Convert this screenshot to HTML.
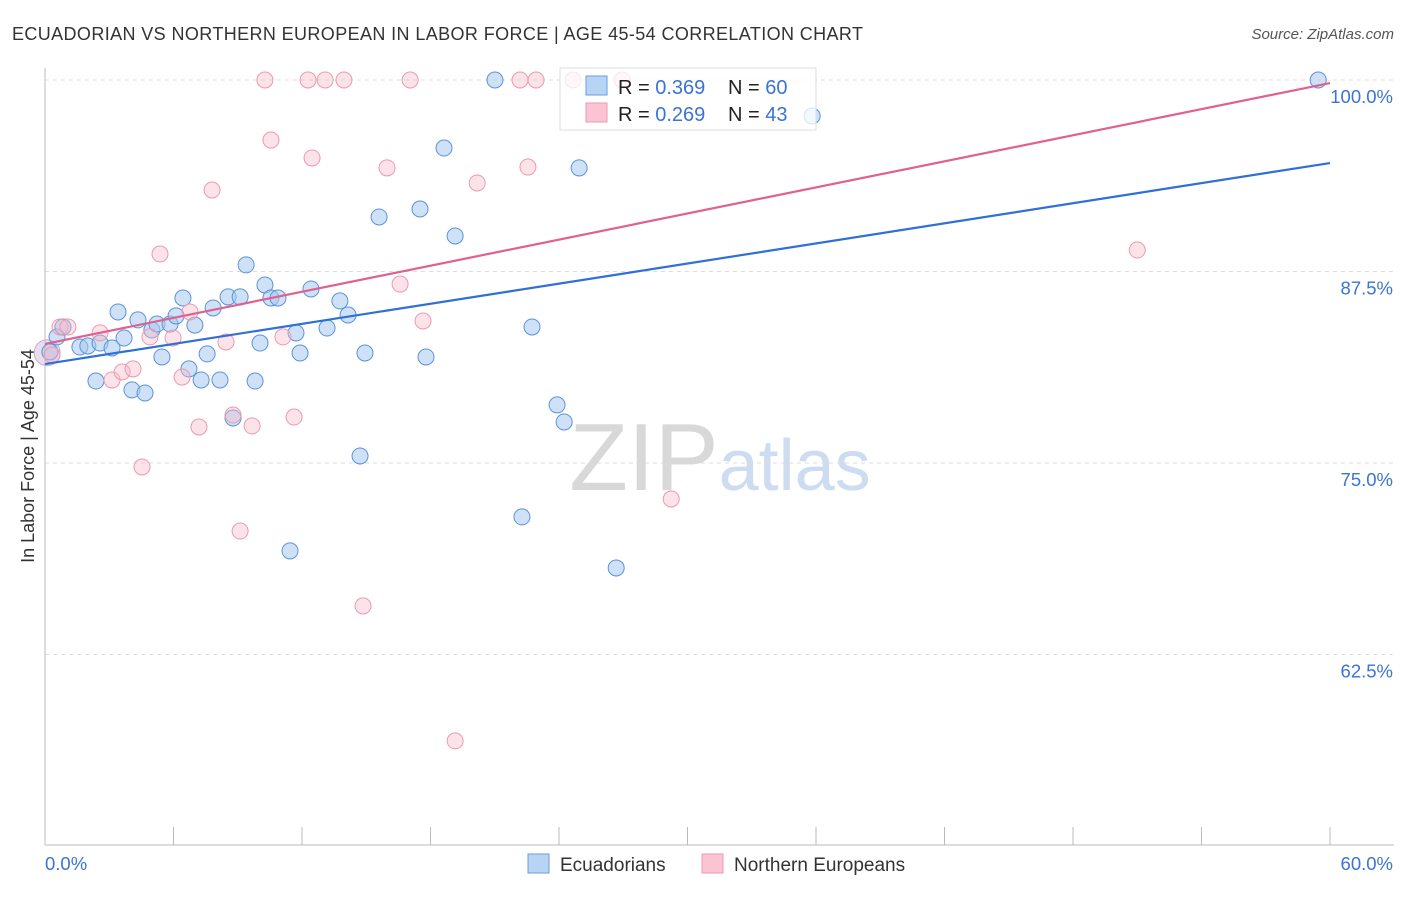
<!DOCTYPE html>
<html><head><meta charset="utf-8"><style>
body{margin:0;background:#fff;font-family:"Liberation Sans",sans-serif}
svg text{font-family:"Liberation Sans",sans-serif}
</style></head><body>
<svg id="chart" width="1406" height="892">
<text x="12" y="40" font-size="18" fill="#333" textLength="851">ECUADORIAN VS NORTHERN EUROPEAN IN LABOR FORCE | AGE 45-54 CORRELATION CHART</text>
<text x="1394" y="39" font-size="15" fill="#555" font-style="italic" text-anchor="end">Source: ZipAtlas.com</text>
<text x="720" y="490" font-size="96" fill="#ddd" text-anchor="middle" font-family="Liberation Serif"><tspan fill="#d8d8d8">ZIP</tspan><tspan fill="#cddcf0" font-family="Liberation Sans" font-size="72">atlas</tspan></text>
<text transform="translate(34,456) rotate(-90)" font-size="18" fill="#333" text-anchor="middle">In Labor Force | Age 45-54</text>
<g id="grid"></g><g id="pts"></g><g id="lines"></g>
<g>
<rect x="560" y="68" width="256" height="62" fill="#fff" fill-opacity="0.75" stroke="#ddd"/>
<rect x="586" y="76" width="21" height="19" fill="#b8d4f5" stroke="#6a9de0"/>
<rect x="586" y="103" width="21" height="19" fill="#fac4d4" stroke="#ec9ab4"/>
<text x="618" y="94" font-size="20" fill="#222">R = <tspan fill="#3a74d4">0.369</tspan><tspan x="728">N = </tspan><tspan fill="#3a74d4">60</tspan></text>
<text x="618" y="121" font-size="20" fill="#222">R = <tspan fill="#3a74d4">0.269</tspan><tspan x="728">N = </tspan><tspan fill="#3a74d4">43</tspan></text>
</g>
<g>
<rect x="528" y="854" width="21" height="19" fill="#b8d4f5" stroke="#6a9de0"/>
<text x="560" y="871" font-size="19" fill="#333">Ecuadorians</text>
<rect x="702" y="854" width="21" height="19" fill="#fac4d4" stroke="#ec9ab4"/>
<text x="734" y="871" font-size="19" fill="#333">Northern Europeans</text>
</g>
</svg>
<script>
const yTicks=[100,87.5,75,62.5];
const xTickLabels=["0.0%","60.0%"];
const blueX=[0.23,0.56,0.84,1.63,2.0,2.38,2.57,3.13,3.41,3.69,4.06,4.34,4.67,4.99,5.23,5.46,5.84,6.12,6.44,6.72,7.0,7.29,7.57,7.85,8.17,8.55,8.78,9.11,9.39,9.81,10.04,10.27,10.55,10.88,11.44,11.72,11.91,12.42,13.17,13.77,14.15,14.71,14.94,15.6,17.51,17.79,18.63,19.15,21.01,22.27,22.74,23.91,24.24,24.94,26.67,35.82,59.45];
const blueY=[82.25,83.23,83.88,82.57,82.64,80.35,82.83,82.51,84.86,83.16,79.77,84.34,79.57,83.68,84.07,81.92,84.07,84.6,85.77,81.14,84.0,80.42,82.12,85.12,80.42,85.84,77.94,85.84,87.93,80.35,82.83,86.62,85.77,85.77,69.26,83.49,82.18,86.36,83.81,85.58,84.66,75.46,82.18,91.06,91.58,81.92,95.56,89.82,100,71.48,83.88,78.79,77.68,94.26,68.15,97.65,100];
const pinkX=[0.33,0.7,1.07,2.57,3.13,3.6,4.11,4.53,4.9,5.37,5.98,6.4,6.77,7.19,7.8,8.45,8.78,9.11,9.67,10.27,10.55,11.11,11.63,12.28,12.47,13.08,13.96,14.85,15.97,16.58,17.05,17.65,19.15,20.18,22.18,22.55,22.93,24.66,26.95,29.24,51.0];
const pinkY=[82.05,83.88,83.88,83.49,80.42,80.94,81.14,74.74,83.23,88.64,83.16,80.61,84.86,77.35,92.82,82.9,78.13,70.56,77.42,100,96.08,83.23,78.0,100,94.91,100,100,65.67,94.26,86.68,100,84.27,56.86,93.28,100,94.32,100,100,100,72.65,88.9];
const blueTrend=[81.46,94.58];
const pinkTrend=[82.77,99.8];
const xs=v=>45+v/60*1285, ys=v=>80+(100-v)/12.5*191.5;
const NS="http://www.w3.org/2000/svg";
function mk(t,a,p){const e=document.createElementNS(NS,t);for(const k in a)e.setAttribute(k,a[k]);p.appendChild(e);return e;}
const g=document.getElementById('grid');
yTicks.forEach(v=>{
 const l=mk('line',{x1:45,x2:1394,y1:ys(v),y2:ys(v),stroke:'#ddd','stroke-dasharray':'4,4'},g);
 
 
 const t=mk('text',{x:1393,y:ys(v)+23,'font-size':18.5,fill:'#3a74d4','text-anchor':'end'},g);t.textContent=v.toFixed(1)+'%';
 
 
});
mk('line',{x1:45,x2:45,y1:68,y2:845,stroke:'#bbb'},g);
mk('line',{x1:45,x2:1394,y1:845,y2:845,stroke:'#bbb'},g);
for(let i=0;i<=10;i++){mk('line',{x1:xs(i*6),x2:xs(i*6),y1:827,y2:845,stroke:'#bbb'},g);}
xTickLabels.forEach((s,i)=>{const t=mk('text',{x:i?1393:45,y:870,'font-size':18.5,fill:'#3a74d4','text-anchor':i?'end':'start'},g);t.textContent=s;
 
 });
const p=document.getElementById('pts');
const big=mk('circle',{cx:xs(0.1),cy:ys(82.2),r:13,fill:'rgba(210,190,220,0.5)',stroke:'#c9b0d0'},p);


blueX.forEach((x,i)=>{const c=mk('circle',{cx:xs(x),cy:ys(blueY[i]),r:8,fill:'rgba(168,200,240,0.55)',stroke:'#5b93d9','stroke-width':1},p);
 
 });
pinkX.forEach((x,i)=>{const c=mk('circle',{cx:xs(x),cy:ys(pinkY[i]),r:8,fill:'rgba(245,184,200,0.4)',stroke:'#ea9ab2','stroke-width':1},p);
 
 });
const L=document.getElementById('lines');
const bl=mk('line',{x1:xs(0),y1:ys(blueTrend[0]),x2:xs(60),y2:ys(blueTrend[1]),stroke:'#2f6fd6','stroke-width':2.2},L);


const pl=mk('line',{x1:xs(0),y1:ys(pinkTrend[0]),x2:xs(60),y2:ys(pinkTrend[1]),stroke:'#e06090','stroke-width':2.2},L);


</script>
</body></html>
